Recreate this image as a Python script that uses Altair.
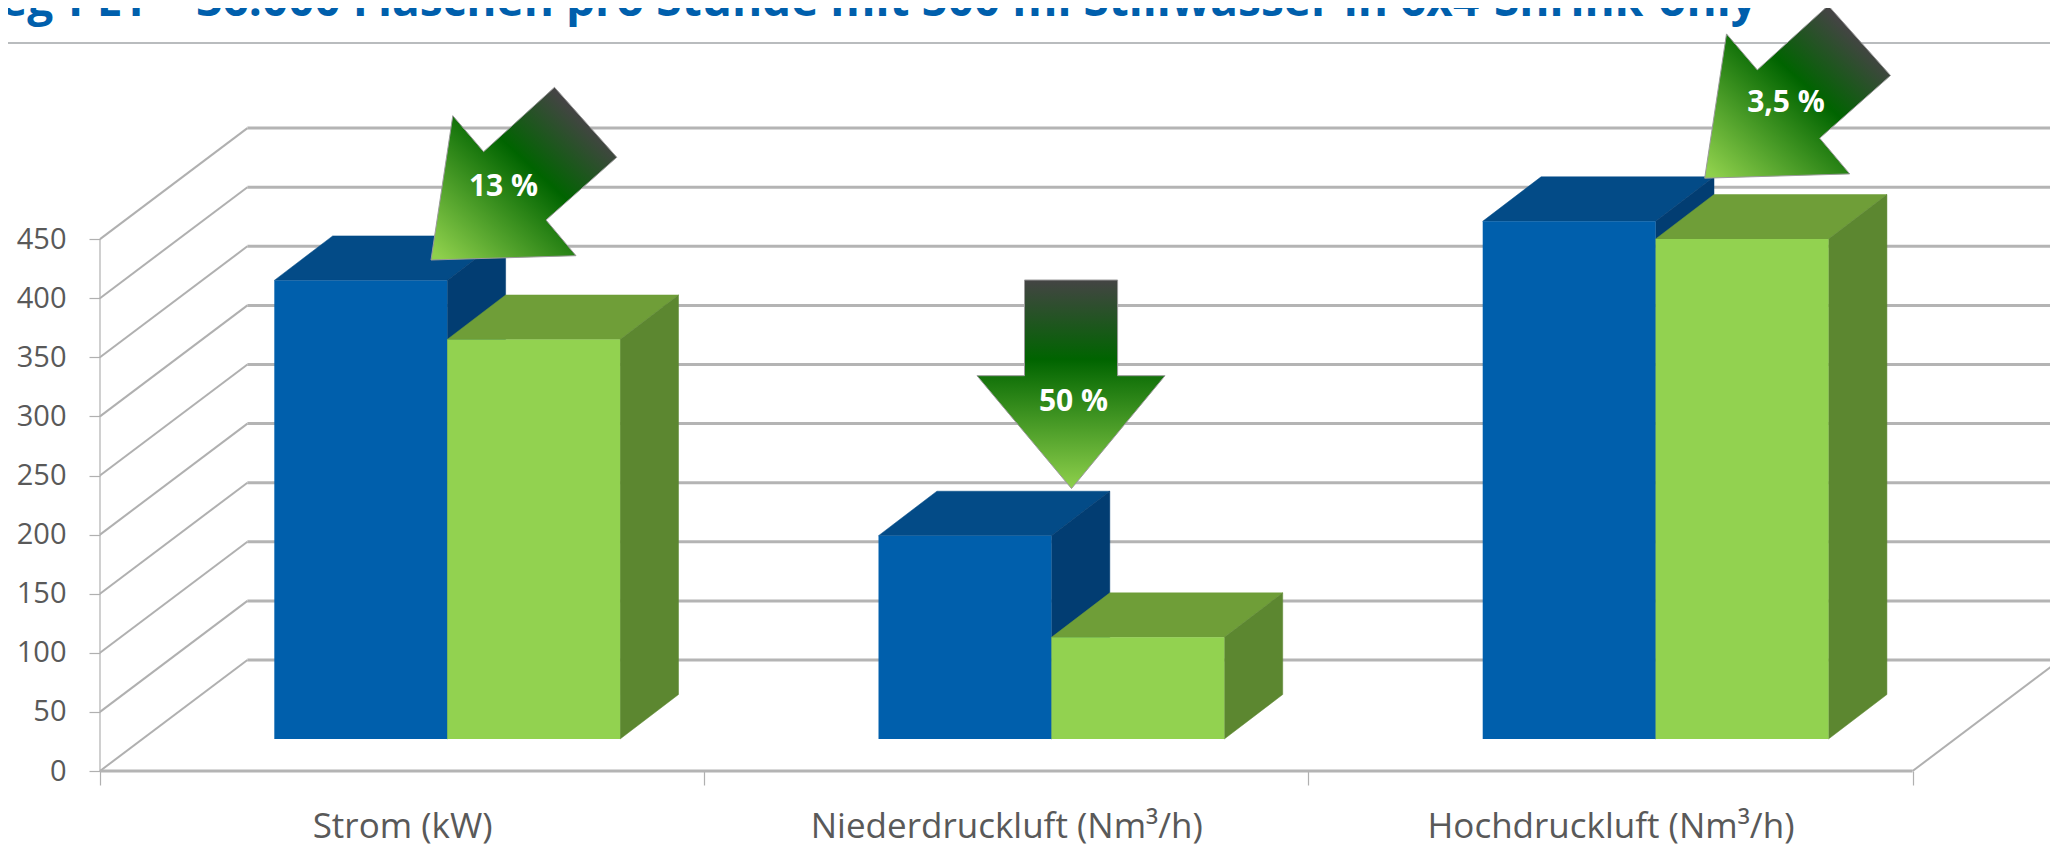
import json
import altair as alt
import pandas as pd

# ---- values ----
categories = ["Strom (kW)", "Niederdruckluft (Nm³/h)", "Hochdruckluft (Nm³/h)"]
before = [388, 172, 438]
after = [338, 86, 423]
savings = ["13 %", "50 %", "3,5 %"]
y_ticks = [0, 50, 100, 150, 200, 250, 300, 350, 400, 450]
title_text = "eg-PET – 36.000 Flaschen pro Stunde mit 500 ml Stillwasser in 6x4-Shrink-only"

# ---- page geometry ----
W, H = 2042, 838
M = 8
PX_X = 604.2          # px per category
PX_Y = 1.182          # px per y unit
ORIGIN_X, ORIGIN_Y = 100, 771

BLUE, BLUE_TOP, BLUE_SIDE = "#005FAC", "#034B87", "#023D72"
GREEN, GREEN_TOP, GREEN_SIDE = "#92D250", "#6F9E38", "#5C8730"
GRID = "#b4b4b4"
AXC = "#b0b0b0"
TXT = "#595959"
FONT = "Open Sans"


def ux(px):
    return (px - ORIGIN_X) / PX_X


def uy(py):
    return (ORIGIN_Y - py) / PX_Y


x_scale = alt.Scale(domain=[ux(M), ux(M + W)], range=[0, W], nice=False, zero=False)
y_scale = alt.Scale(domain=[uy(M + H), uy(M)], range=[H, 0], nice=False, zero=False)

label_expr = "datum.value % 1 ? " + json.dumps(categories, ensure_ascii=False) + "[floor(datum.value)] : ''"
x_axis = alt.Axis(
    title=None, values=[0, 0.5, 1, 1.5, 2, 2.5, 3], labelExpr=label_expr, grid=False, domain=False,
    offset=-(M + H - ORIGIN_Y), tickSize=14, tickColor=AXC, tickWidth=1.2,
    tickOpacity={"condition": {"test": "datum.value % 1 == 0", "value": 1}, "value": 0},
    labelFontSize=35, labelFont=FONT, labelColor=TXT, labelPadding=24, labelLimit=800,
    labelOverlap=False, labelFlush=False, labelBound=False)
y_axis = alt.Axis(
    title=None, values=y_ticks, grid=False, domain=False, offset=-(ORIGIN_X - M),
    tickSize=11, tickColor=AXC, tickWidth=1.2,
    labelFontSize=29, labelFont=FONT, labelColor=TXT, labelPadding=23,
    labelOverlap=False, labelFlush=False, labelBound=False)

X = lambda f="x": alt.X(f"{f}:Q", scale=x_scale, axis=x_axis)
Y = lambda f="y": alt.Y(f"{f}:Q", scale=y_scale, axis=y_axis)

# oblique projection
WALL_DX, WALL_DY = 147.4 / PX_X, 111 / PX_Y
BAR_DX, BAR_DY = 58.4 / PX_X, 44.5 / PX_Y
BAR_W = 172.9 / PX_X
BAR_OFF = 0.2885
BASE = 32 / PX_Y
X_END = 3


def seg(rows, **kw):
    return alt.Chart(pd.DataFrame(rows)).mark_rule(**kw).encode(
        x=X("x"), x2="x2:Q", y=Y("y"), y2="y2:Q")


# ---- walls and floor ----
back = seg([{"x": WALL_DX, "x2": X_END + WALL_DX, "y": v + WALL_DY, "y2": v + WALL_DY} for v in y_ticks],
           color=GRID, strokeWidth=3)
left = alt.Chart(pd.DataFrame(
    [{"k": v, "o": 0, "x": 0, "y": v} for v in y_ticks] +
    [{"k": v, "o": 1, "x": WALL_DX, "y": v + WALL_DY} for v in y_ticks]
)).mark_line(color=AXC, strokeWidth=2).encode(x=X(), y=Y(), detail="k:N", order="o:Q")
right_floor = alt.Chart(pd.DataFrame(
    [{"o": 0, "x": X_END, "y": 0}, {"o": 1, "x": X_END + WALL_DX, "y": WALL_DY}]
)).mark_line(color=AXC, strokeWidth=2).encode(x=X(), y=Y(), order="o:Q")
front_floor = seg([{"x": 0, "x2": X_END, "y": 0, "y2": 0}], color=GRID, strokeWidth=3)
y_line = seg([{"x": 0, "x2": 0, "y": 0, "y2": max(y_ticks)}], color=AXC, strokeWidth=1.2)


# ---- bars ----
def poly(rows, **kw):
    return alt.Chart(pd.DataFrame(rows)).mark_line(interpolate="linear-closed", **kw).encode(
        x=X(), y=Y(), detail="p:N", order="o:Q")


def bar_layers(values, slot, front, top, side):
    t, s, f = [], [], []
    for i, v in enumerate(values):
        x0 = i + BAR_OFF + slot * BAR_W
        x1 = x0 + BAR_W
        yt = BASE + v
        for o, (a, b) in enumerate([(x0, yt), (x1, yt), (x1 + BAR_DX, yt + BAR_DY), (x0 + BAR_DX, yt + BAR_DY)]):
            t.append({"p": i, "o": o, "x": a, "y": b})
        for o, (a, b) in enumerate([(x1, BASE), (x1 + BAR_DX, BASE + BAR_DY), (x1 + BAR_DX, yt + BAR_DY), (x1, yt)]):
            s.append({"p": i, "o": o, "x": a, "y": b})
        f.append({"x": x0, "x2": x1, "y": BASE, "y2": yt})
    return [
        poly(t, fill=top, stroke=top, strokeWidth=0.5),
        poly(s, fill=side, stroke=side, strokeWidth=0.5),
        alt.Chart(pd.DataFrame(f)).mark_rect(color=front).encode(x=X(), x2="x2:Q", y=Y(), y2="y2:Q"),
    ]


# ---- saving arrows (outline in page pixels) ----
diag_outline = [(431, 260), (452.8, 115.7), (483.6, 151.7), (554.5, 87.3), (616.8, 157.3), (546, 220), (576, 255.7)]
down_outline = [(1024.5, 280), (1117.6, 280), (1117.6, 375.7), (1165, 375.7), (1071.5, 488.5), (977, 375.7), (1024.5, 375.7)]
arrow3_shift = (1273.7, -81.8)
label_px = [(503.5, 187), (1073.5, 401.5), (1786, 103)]


def grad(x1, y1, x2, y2, s0, s1, s2):
    return alt.LinearGradient(gradient="linear", x1=x1, y1=y1, x2=x2, y2=y2, stops=[
        alt.GradientStop(offset=s0, color="#444444"),
        alt.GradientStop(offset=s1, color="#006400"),
        alt.GradientStop(offset=s2, color="#8FD04C"),
    ])


def arrow(outline, g):
    rows = [{"p": 0, "o": k, "x": ux(a), "y": uy(b)} for k, (a, b) in enumerate(outline)]
    return poly(rows, fill=g, stroke="#9a9a9a", strokeWidth=1)


diag_grad = grad(1, 0, 0, 1, 0.18, 0.46, 0.97)
arrows = [
    arrow(diag_outline, diag_grad),
    arrow(down_outline, grad(0, 0, 0, 1, 0.0, 0.38, 1.0)),
    arrow([(a + arrow3_shift[0], b + arrow3_shift[1]) for a, b in diag_outline], diag_grad),
]
labels = alt.Chart(pd.DataFrame({
    "x": [ux(p[0]) for p in label_px], "y": [uy(p[1]) for p in label_px], "t": savings
})).mark_text(font=FONT, fontWeight="bold", fontSize=30, color="white", baseline="middle", align="center").encode(
    x=X(), y=Y(), text="t:N")

title_rule = alt.Chart(pd.DataFrame({"a": [0]})).mark_rule(color="#b9bcbe", strokeWidth=2).encode(
    x=alt.value(0), x2=alt.value(W), y=alt.value(43 - M))
title_mark = alt.Chart(pd.DataFrame({"t": [title_text]})).mark_text(
    font=FONT, fontSize=46, fontWeight="bold", color="#005FAC", align="right", baseline="alphabetic"
).encode(x=alt.value(1757 - M), y=alt.value(15.5 - M), text="t:N")

layers = [title_rule, title_mark, back, left, right_floor, front_floor, y_line]
layers += bar_layers(before, 0, BLUE, BLUE_TOP, BLUE_SIDE)
layers += bar_layers(after, 1, GREEN, GREEN_TOP, GREEN_SIDE)
layers += arrows + [labels]

chart = alt.layer(*layers).resolve_scale(x="shared", y="shared").properties(
    width=W, height=H, padding=0, autosize="none",
).configure_view(stroke=None)

chart.save("out.html", embed_options={"renderer": "svg", "actions": False})
